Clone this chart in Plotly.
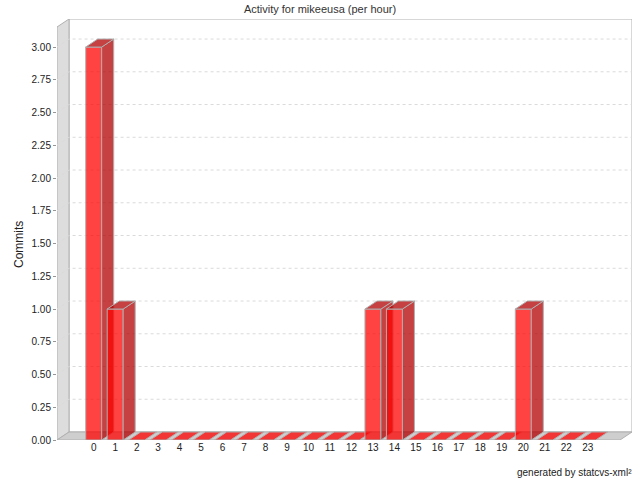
import plotly.graph_objects as go

# ---- data ----
hours = [str(h) for h in range(24)]
commits = [3, 1, 0, 0, 0, 0, 0, 0, 0, 0, 0, 0, 0, 1, 1, 0, 0, 0, 0, 0, 1, 0, 0, 0]
y_ticks = [0.0, 0.25, 0.5, 0.75, 1.0, 1.25, 1.5, 1.75, 2.0, 2.25, 2.5, 2.75, 3.0]
y_tick_labels = [f"{v:.2f}" for v in y_ticks]
title_text = "Activity for mikeeusa (per hour)"
y_title = "Commits"
footer_text = "generated by statcvs-xml²"

# ---- 3D geometry (axis units) ----
X_LO, X_HI = -1.709, 25.06
Y_HI = 3.214
DX, DY = 0.559, 0.061
HALF = 0.3725

FONT = "Liberation Sans"
EDGE = "rgb(176,176,176)"


def path(pts):
    return "M " + " L ".join(f"{x},{y}" for x, y in pts) + " Z"


shapes = []
# back wall
shapes.append(dict(type="rect", xref="x", yref="y", x0=X_LO + DX, x1=X_HI, y0=DY, y1=Y_HI,
                   fillcolor="white", line=dict(color=EDGE, width=1), layer="below"))
# left wall
shapes.append(dict(type="path", xref="x", yref="y",
                   path=path([(X_LO, 0), (X_LO, Y_HI - DY), (X_LO + DX, Y_HI), (X_LO + DX, DY)]),
                   fillcolor="rgb(221,221,221)", line=dict(color=EDGE, width=1), layer="below"))
# floor
shapes.append(dict(type="path", xref="x", yref="y",
                   path=path([(X_LO, 0), (X_HI - DX, 0), (X_HI, DY), (X_LO + DX, DY)]),
                   fillcolor="rgb(206,206,206)", line=dict(color=EDGE, width=1), layer="below"))
# grid lines on left wall + back wall
for v in y_ticks:
    if v <= 0:
        continue
    shapes.append(dict(type="path", xref="x", yref="y",
                       path="M {},{} L {},{} L {},{}".format(X_LO, v, X_LO + DX, v + DY, X_HI, v + DY),
                       line=dict(color="rgb(218,218,218)", width=1, dash="3px,3px"), layer="below"))

fig = go.Figure()

FRONT = "rgba(255,0,0,0.74)"
DARK = "rgba(178,0,0,0.74)"


def poly(pts, fill):
    xs = [p[0] for p in pts] + [pts[0][0]]
    ys = [p[1] for p in pts] + [pts[0][1]]
    fig.add_trace(go.Scatter(x=xs, y=ys, mode="lines", fill="toself", fillcolor=fill,
                             line=dict(color=EDGE, width=1), hoverinfo="skip", showlegend=False))


for i, v in enumerate(commits):
    xl, xr = i - HALF, i + HALF
    if v > 0:
        poly([(xl, 0), (xr, 0), (xr, v), (xl, v)], FRONT)
        poly([(xr, 0), (xr + DX, DY), (xr + DX, v + DY), (xr, v)], DARK)
        poly([(xl, v), (xr, v), (xr + DX, v + DY), (xl + DX, v + DY)], DARK)
    else:
        poly([(xl, v), (xr, v), (xr + DX, v + DY), (xl + DX, v + DY)], FRONT)

fig.update_layout(
    width=640, height=480, autosize=False,
    margin=dict(l=57, r=8, t=19, b=40, autoexpand=False),
    paper_bgcolor="white", plot_bgcolor="white",
    font=dict(family=FONT, size=10, color="#222222"),
    title=dict(text=title_text, x=0.5, xanchor="center", y=1 - 9 / 480, yanchor="middle",
               yref="container", font=dict(family=FONT, size=11, color="#333333")),
    shapes=shapes,
    showlegend=False,
    xaxis=dict(range=[X_LO, X_HI], tickvals=list(range(len(hours))), ticktext=hours,
               showgrid=False, zeroline=False, showline=False, ticks="", ticklen=0,
               automargin=False,
               tickfont=dict(family=FONT, size=10, color="#222222"), fixedrange=True),
    yaxis=dict(range=[0, Y_HI], tickvals=y_ticks, ticktext=y_tick_labels,
               showgrid=False, zeroline=False, showline=False, ticks="outside", ticklen=3,
               automargin=False,
               tickcolor="rgb(150,150,150)", tickfont=dict(family=FONT, size=10, color="#222222"),
               fixedrange=True),
    annotations=[
        dict(text=y_title, xref="paper", yref="paper", x=(19 - 57) / 575, y=(440 - 245) / 421,
             textangle=-90, showarrow=False, xanchor="center", yanchor="middle",
             font=dict(family=FONT, size=12, color="#222222")),
        dict(text=footer_text, xref="paper", yref="paper", x=(634 - 57) / 575, y=(440 - 472) / 421,
             showarrow=False, xanchor="right", yanchor="middle",
             font=dict(family=FONT, size=10, color="#222222")),
    ],
)

fig.write_html("out.html", config={"displayModeBar": False},
               post_script="document.body.style.margin='0';document.body.style.padding='0';")
